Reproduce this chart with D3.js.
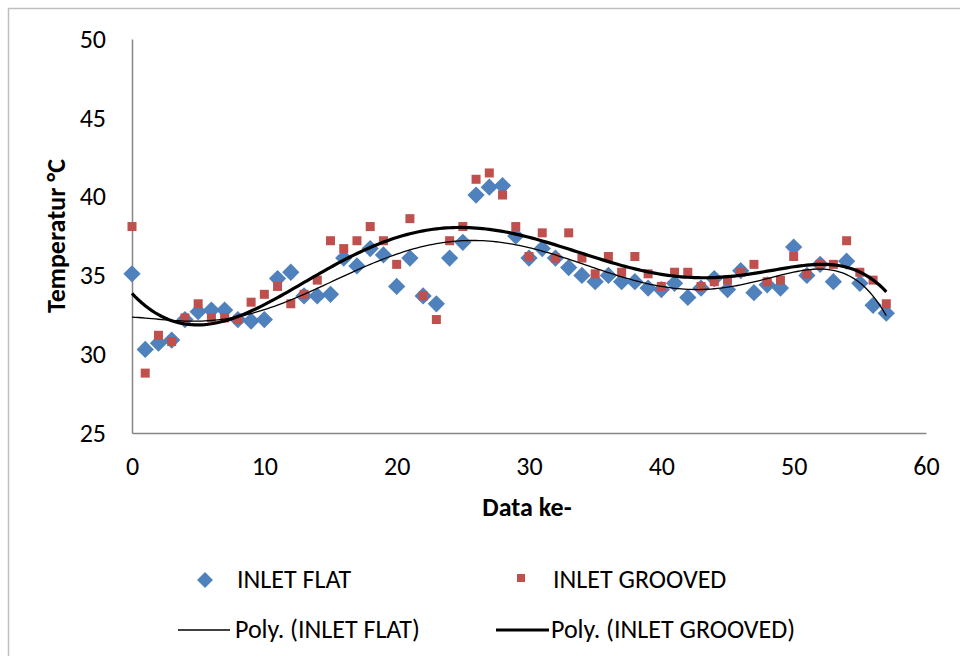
<!DOCTYPE html>
<html>
<head>
<meta charset="utf-8">
<script src="https://cdn.jsdelivr.net/npm/d3@7"></script>
<style>
  html, body { margin: 0; padding: 0; background: #fff; }
  svg { display: block; }
  text { font-family: Carlito, Lato, "Liberation Sans", sans-serif; fill: #000; }
</style>
</head>
<body>
<svg id="chart" width="960" height="659"></svg>
<script>
// Measurement index (Data ke-)
const dataIndex = d3.range(0, 58);

// Inlet temperature, flat surface (°C)
const inletFlat = [
  35.1, 30.3, 30.7, 30.9, 32.2, 32.7, 32.8, 32.8, 32.2, 32.1,
  32.2, 34.8, 35.2, 33.7, 33.7, 33.8, 36.1, 35.6, 36.7, 36.3,
  34.3, 36.1, 33.7, 33.2, 36.1, 37.1, 40.1, 40.6, 40.7, 37.5,
  36.1, 36.7, 36.1, 35.5, 35.0, 34.6, 35.0, 34.6, 34.6, 34.2,
  34.1, 34.5, 33.6, 34.2, 34.8, 34.1, 35.3, 33.9, 34.4, 34.2,
  36.8, 35.0, 35.7, 34.6, 35.9, 34.5, 33.1, 32.6
];

// Inlet temperature, grooved surface (°C)
const inletGrooved = [
  38.1, 28.8, 31.2, 30.8, 32.3, 33.2, 32.3, 32.3, 32.2, 33.3,
  33.8, 34.3, 33.2, 33.8, 34.7, 37.2, 36.7, 37.2, 38.1, 37.2,
  35.7, 38.6, 33.7, 32.2, 37.2, 38.1, 41.1, 41.5, 40.1, 38.1,
  36.2, 37.7, 36.1, 37.7, 36.1, 35.1, 36.2, 35.2, 36.2, 35.1,
  34.3, 35.2, 35.2, 34.3, 34.6, 34.7, 35.2, 35.7, 34.6, 34.7,
  36.2, 35.1, 35.7, 35.7, 37.2, 35.2, 34.7, 33.2
];

const xTicks = [0, 10, 20, 30, 40, 50, 60];
const yTicks = [25, 30, 35, 40, 45, 50];

const seriesNames = ["INLET FLAT", "INLET GROOVED"];
const trendNames = ["Poly. (INLET FLAT)", "Poly. (INLET GROOVED)"];

const colors = { flat: "#4F81BD", grooved: "#C0504D", axis: "#868686" };

// Least-squares polynomial trendline (order 6), on a normalised x to keep it stable
function polyFit(xs, ys, order) {
  const mid = (d3.min(xs) + d3.max(xs)) / 2;
  const half = (d3.max(xs) - d3.min(xs)) / 2;
  const n = order + 1;
  const A = Array.from({ length: n }, () => new Array(n + 1).fill(0));
  xs.forEach((x, k) => {
    const t = (x - mid) / half;
    const p = [];
    for (let i = 0; i < n; i++) p.push(Math.pow(t, i));
    for (let i = 0; i < n; i++) {
      for (let j = 0; j < n; j++) A[i][j] += p[i] * p[j];
      A[i][n] += p[i] * ys[k];
    }
  });
  for (let c = 0; c < n; c++) {
    let piv = c;
    for (let r = c + 1; r < n; r++) if (Math.abs(A[r][c]) > Math.abs(A[piv][c])) piv = r;
    [A[c], A[piv]] = [A[piv], A[c]];
    for (let r = 0; r < n; r++) {
      if (r === c) continue;
      const f = A[r][c] / A[c][c];
      for (let j = c; j <= n; j++) A[r][j] -= f * A[c][j];
    }
  }
  const coef = A.map((row, i) => row[n] / row[i]);
  return x => {
    const t = (x - mid) / half;
    let s = 0;
    for (let i = n - 1; i >= 0; i--) s = s * t + coef[i];
    return s;
  };
}

const svg = d3.select("#chart");

// chart frame (left and top edges of the chart area)
svg.append("path")
  .attr("d", "M8.5,656 V8.5 H960")
  .attr("fill", "none")
  .attr("stroke", "#BFBFBF")
  .attr("stroke-width", 1.5);

const x = d3.scaleLinear().domain([0, 60]).range([132, 926]);
const y = d3.scaleLinear().domain([25, 50]).range([433, 39]);

// axes
const xAxis = d3.axisBottom(x).tickValues(xTicks).tickSize(0).tickPadding(24);
const yAxis = d3.axisLeft(y).tickValues(yTicks).tickSize(0).tickPadding(26);

const gx = svg.append("g").attr("transform", `translate(0,${y(25)})`).call(xAxis);
const gy = svg.append("g").attr("transform", `translate(${x(0)},0)`).call(yAxis);
[gx, gy].forEach(g => {
  g.select(".domain").attr("stroke", colors.axis).attr("stroke-width", 1.5);
  g.selectAll("text").attr("font-size", 26).attr("fill", "#000")
    .style("font-family", "Carlito, Lato, sans-serif");
});
gy.selectAll("text").attr("dy", "0.32em");

// axis titles
svg.append("text")
  .attr("x", 527).attr("y", 516)
  .attr("text-anchor", "middle")
  .attr("font-size", 26).attr("font-weight", "bold")
  .text("Data ke-");

svg.append("text")
  .attr("transform", "translate(65,236) rotate(-90)")
  .attr("text-anchor", "middle")
  .attr("font-size", 26).attr("font-weight", "bold")
  .text("Temperatur °C");

// markers
const plot = svg.append("g");
const diamond = d3.symbol().type(d3.symbolDiamond2).size(190);

plot.selectAll("path.flat")
  .data(dataIndex)
  .join("path")
  .attr("class", "flat")
  .attr("transform", i => `translate(${x(i)},${y(inletFlat[i])})`)
  .attr("d", diamond)
  .attr("fill", colors.flat);

plot.selectAll("rect.grooved")
  .data(dataIndex)
  .join("rect")
  .attr("class", "grooved")
  .attr("x", i => x(i) - 4.5)
  .attr("y", i => y(inletGrooved[i]) - 4.5)
  .attr("width", 9).attr("height", 9)
  .attr("fill", colors.grooved);

// polynomial trendlines
const fitFlat = polyFit(dataIndex, inletFlat, 6);
const fitGrooved = polyFit(dataIndex, inletGrooved, 6);
const samples = d3.range(0, 57.001, 0.25);
const line = f => d3.line().x(t => x(t)).y(t => y(f(t)))(samples);

plot.append("path").attr("d", line(fitFlat))
  .attr("fill", "none").attr("stroke", "#000").attr("stroke-width", 1.3);
plot.append("path").attr("d", line(fitGrooved))
  .attr("fill", "none").attr("stroke", "#000").attr("stroke-width", 3.2);

// legend
const legend = svg.append("g").attr("font-size", 26);

legend.append("path")
  .attr("transform", "translate(205,580)")
  .attr("d", d3.symbol().type(d3.symbolDiamond2).size(160))
  .attr("fill", colors.flat);
legend.append("text").attr("x", 237).attr("y", 588).text(seriesNames[0]);

legend.append("rect")
  .attr("x", 517).attr("y", 574).attr("width", 8).attr("height", 8)
  .attr("fill", colors.grooved);
legend.append("text").attr("x", 553).attr("y", 588).text(seriesNames[1]);

legend.append("line")
  .attr("x1", 178).attr("x2", 230).attr("y1", 630).attr("y2", 630)
  .attr("stroke", "#000").attr("stroke-width", 1.3);
legend.append("text").attr("x", 235).attr("y", 638).text(trendNames[0]);

legend.append("line")
  .attr("x1", 496).attr("x2", 549).attr("y1", 630).attr("y2", 630)
  .attr("stroke", "#000").attr("stroke-width", 3.2);
legend.append("text").attr("x", 551).attr("y", 638).text(trendNames[1]);
</script>
</body>
</html>
